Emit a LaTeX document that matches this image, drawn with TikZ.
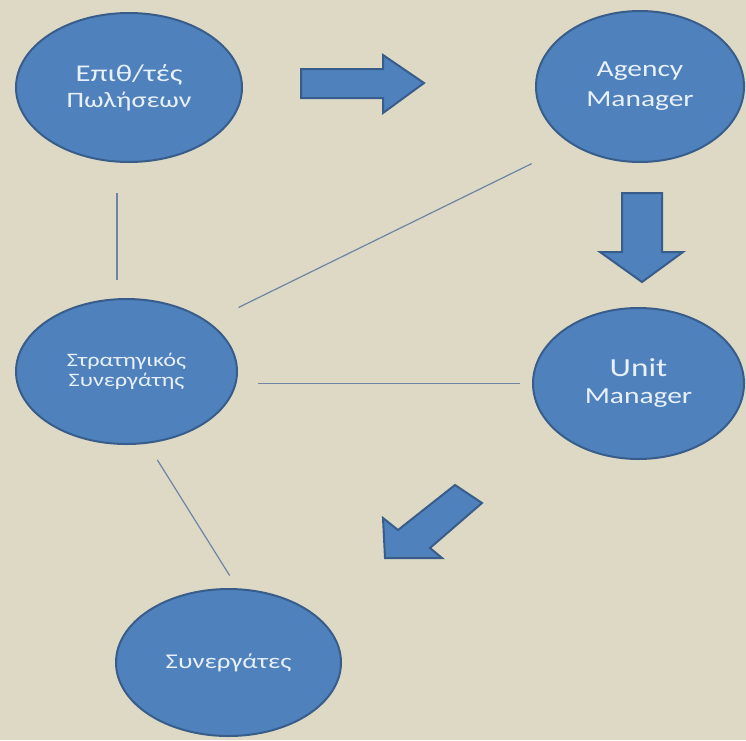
\documentclass[tikz,border=0pt]{standalone}
\usepackage{fontspec}
\newfontfamily\calfont[FakeStretch=1.28]{Carlito}
\usetikzlibrary{shapes.geometric}
\definecolor{bg}{RGB}{221,217,197}
\definecolor{bfill}{RGB}{79,129,189}
\definecolor{bdraw}{RGB}{56,93,138}
\definecolor{lnc}{RGB}{110,132,165}
\definecolor{txt}{RGB}{232,240,250}
\tikzset{
  bub/.style={ellipse, draw=bdraw, fill=bfill, line width=2pt, inner sep=0pt,
    text=txt, align=center},
  conn/.style={draw=lnc, line width=1.2pt},
  bigarrow/.style={draw=bdraw, fill=bfill, line width=2pt, line join=miter}
}
\begin{document}
\begin{tikzpicture}[x=1pt,y=-1pt]
\fill[bg] (0,0) rectangle (746,740);
\useasboundingbox (0,0) rectangle (746,740);

\node[bub, minimum width=226pt, minimum height=149pt,
  font=\calfont\fontsize{24}{26}\selectfont] (e) at (129,87.5)
  {Επιθ/τές\\{\fontsize{22}{26}\selectfont Πωλήσεων}};
\node[bub, minimum width=208pt, minimum height=151pt,
  font=\calfont\fontsize{23}{30}\selectfont] (a) at (640,86.5)
  {Agency\\Manager};
\node[bub, minimum width=221pt, minimum height=145pt,
  font=\calfont\fontsize{19}{20}\selectfont] (s) at (126.5,371.5)
  {Στρατηγικός\\Συνεργάτης};
\node[bub, minimum width=211pt, minimum height=151pt,
  font=\calfont\fontsize{26}{27}\selectfont] (u) at (638.5,383.5)
  {Unit\\{\fontsize{23}{27}\selectfont Manager}};
\node[bub, minimum width=225pt, minimum height=147pt,
  font=\calfont\fontsize{21}{24}\selectfont] (c) at (228.5,662.5)
  {Συνεργάτες};

% connectors
\draw[conn, shorten <=30pt, shorten >=18pt] ([xshift=-12pt]e.south) -- ([xshift=-12pt]e.south |- s.north);
\draw[conn, shorten <=33pt, shorten >=44pt] (s.31) -- (a.220);
\draw[conn, shorten <=20pt, shorten >=12pt] (s.east |- u.west) -- (u.west);
\draw[conn, shorten <=19pt, shorten >=15pt] (s.286) -- (c.83);

% block arrows
\draw[bigarrow] (301,69) -- (383,69) -- (383,55) -- (424,83) -- (383,113) -- (383,98) -- (301,98) -- cycle;
\draw[bigarrow] (622,193) -- (662,193) -- (662,252) -- (683,252) -- (642,282) -- (600,252) -- (622,252) -- cycle;
\draw[bigarrow] (455,485) -- (482,503) -- (430,548) -- (442,558) -- (385,558) -- (383,518) -- (398,530) -- cycle;
\end{tikzpicture}
\end{document}
